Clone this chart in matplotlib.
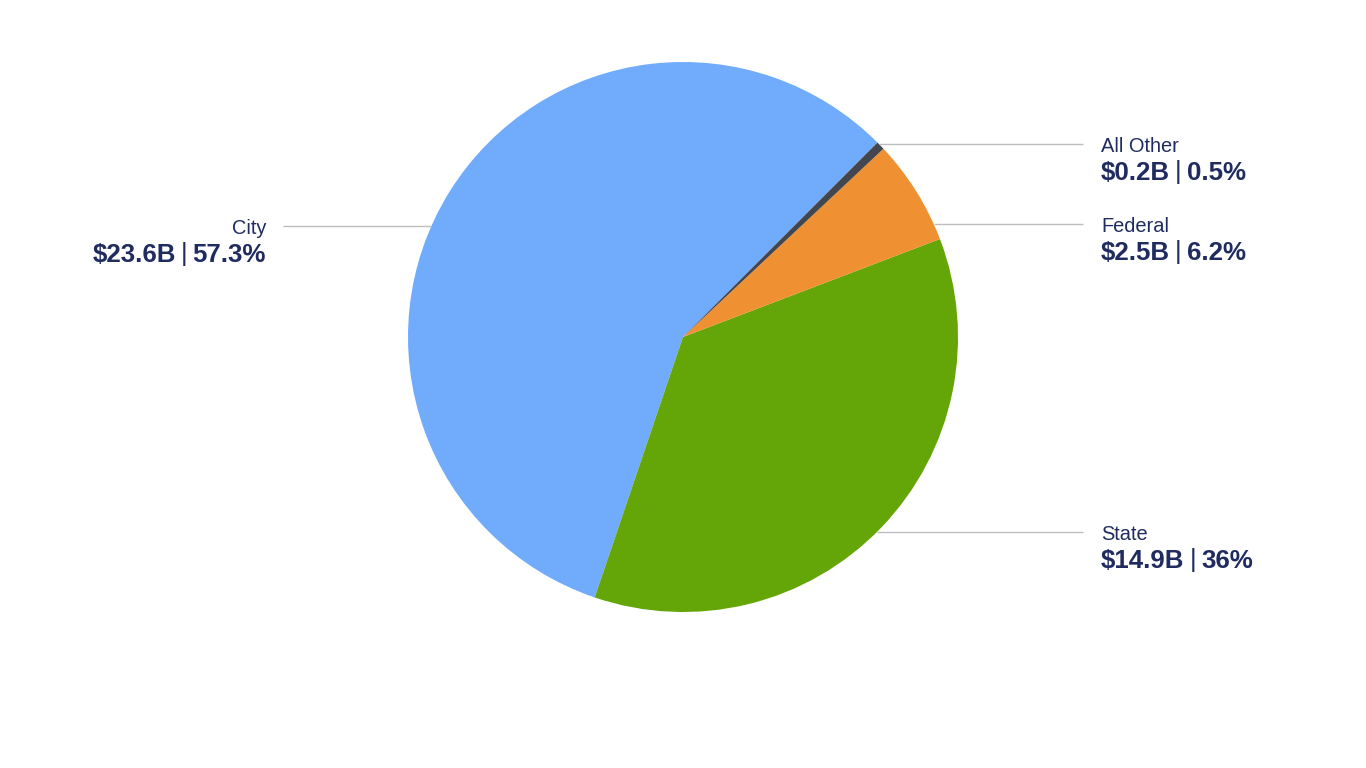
import matplotlib
matplotlib.use("Agg")
import matplotlib.pyplot as plt
import numpy as np

categories = ["City", "State", "Federal", "All Other"]
amounts_b = [23.6, 14.9, 2.5, 0.2]
shares_pct = [57.3, 36.0, 6.2, 0.5]
pct_labels = ["57.3%", "36%", "6.2%", "0.5%"]
amount_labels = ["$23.6B", "$14.9B", "$2.5B", "$0.2B"]
colors = ["#70acfb", "#64a507", "#ef9032", "#43464c"]

TEXT = "#202c60"
LINE = "#bdbdbd"
plt.rcParams['font.family'] = ['Liberation Sans', 'DejaVu Sans']

W, H = 1366, 768
fig = plt.figure(figsize=(W / 100, H / 100), dpi=100)
ax = fig.add_axes([0, 0, 1, 1])

cx, cy, R = 683, H - 337, 275
ax.pie(shares_pct, colors=colors, startangle=45.0, counterclock=True,
       center=(cx, cy), radius=R, wedgeprops=dict(linewidth=0))
ax.set_xlim(0, W)
ax.set_ylim(0, H)
ax.set_aspect('equal')
ax.axis('off')

# label layout (pixel y of leader line), side
layout = {
    "City": (226, "left"),
    "State": (532, "right"),
    "Federal": (224, "right"),
    "All Other": (144, "right"),
}

fig.canvas.draw()
renderer = fig.canvas.get_renderer()

def text_width(s, **kw):
    t = ax.text(0, 0, s, **kw)
    w = t.get_window_extent(renderer).width
    t.remove()
    return w

bold_kw = dict(fontsize=18.6, fontweight='bold', color=TEXT)
bar_kw = dict(fontsize=18.6, fontweight='normal', color=TEXT)
GAP = 5

for cat, amt, pct in zip(categories, amount_labels, pct_labels):
    py, side = layout[cat]
    y = H - py
    dy = abs(y - cy)
    edge_dx = np.sqrt(max(R ** 2 - dy ** 2, 0))
    name_base = y - 7.5
    val_base = y - 35.5
    w1 = text_width(amt, **bold_kw)
    w2 = text_width("|", **bar_kw)
    w3 = text_width(pct, **bold_kw)
    total = w1 + GAP + w2 + GAP + w3
    if side == "right":
        ax.plot([cx + edge_dx, 1083], [y, y], color=LINE, lw=1, solid_capstyle='butt')
        x0 = 1101
        ax.text(x0, name_base, cat, fontsize=14.4, color=TEXT, ha='left', va='baseline')
    else:
        ax.plot([283, cx - edge_dx], [y, y], color=LINE, lw=1, solid_capstyle='butt')
        ax.text(266, name_base, cat, fontsize=14.4, color=TEXT, ha='right', va='baseline')
        x0 = 266 - total
    ax.text(x0, val_base, amt, ha='left', va='baseline', **bold_kw)
    ax.text(x0 + w1 + GAP, val_base, "|", ha='left', va='baseline', **bar_kw)
    ax.text(x0 + w1 + GAP + w2 + GAP, val_base, pct, ha='left', va='baseline', **bold_kw)

fig.savefig("out.png", dpi=100, facecolor='white')
